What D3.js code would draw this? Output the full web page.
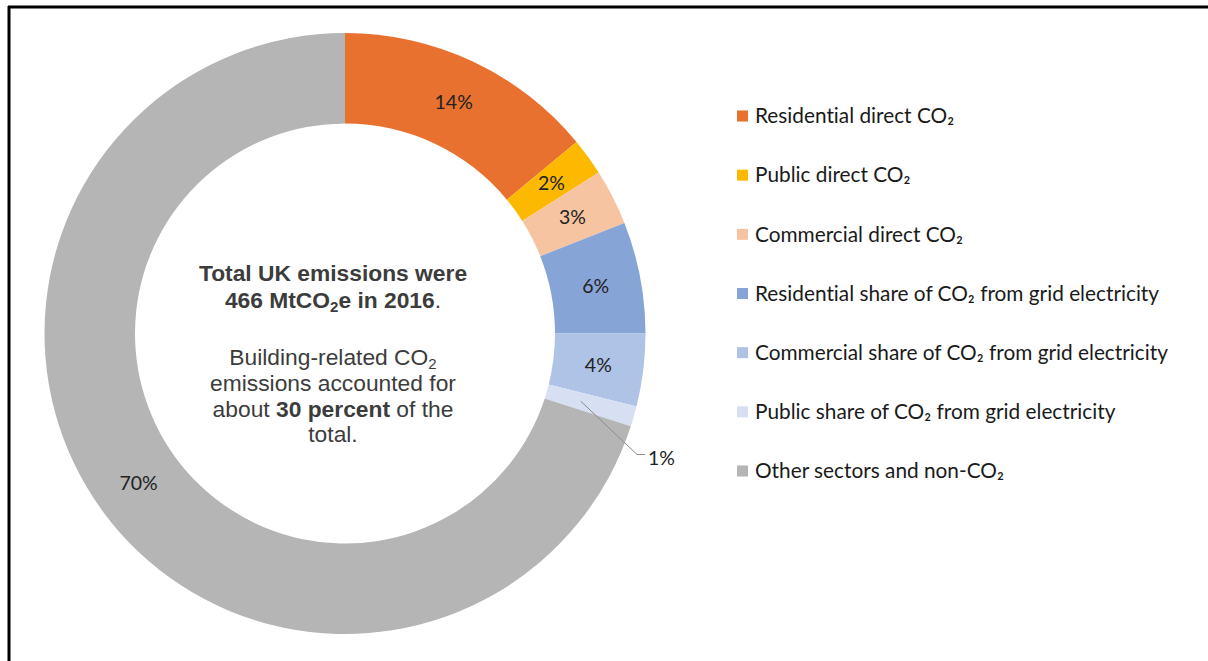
<!DOCTYPE html>
<html><head><meta charset="utf-8">
<script src="https://cdn.jsdelivr.net/npm/d3@7"></script>
<style>body{margin:0;background:#fff}svg{display:block}text{font-variant-ligatures:none;font-feature-settings:"liga" 0}</style>
</head><body>
<script>
const categories = ["Residential direct CO₂","Public direct CO₂","Commercial direct CO₂","Residential share of CO₂ from grid electricity","Commercial share of CO₂ from grid electricity","Public share of CO₂ from grid electricity","Other sectors and non-CO₂"];
const values = [14, 2, 3, 6, 3.9, 1.1, 70];
const sliceLabels = ["14%","2%","3%","6%","4%","1%","70%"];
const colors = ["#E9712F","#FDB900","#F7C4A1","#87A4D7","#AEC3E6","#D6E0F2","#B5B5B5"];

const W = 1208, H = 661;
const svg = d3.select("body").append("svg").attr("width", W).attr("height", H);

// frame (left + top)
svg.append("line").attr("x1",9).attr("y1",6).attr("x2",9).attr("y2",H).attr("stroke","#000").attr("stroke-width",3);
svg.append("line").attr("x1",8).attr("y1",7).attr("x2",W).attr("y2",7).attr("stroke","#000").attr("stroke-width",3);

const cx = 345, cy = 333.5, R = 300.5, r = 210;
const g = svg.append("g").attr("transform", `translate(${cx},${cy})`);
const pie = d3.pie().sort(null).value(d => d)(values);
const arc = d3.arc().innerRadius(r).outerRadius(R);
g.selectAll("path.s").data(pie).join("path").attr("class","s")
  .attr("d", arc).attr("fill", (d,i) => colors[i]);

const labFont = "Lato, 'Noto Sans', sans-serif";
const labSize = 19.5;
const midArc = d3.arc().innerRadius((r+R)/2).outerRadius((r+R)/2);
pie.forEach((d,i) => {
  if (i === 5) {
    const a = (d.startAngle + d.endAngle)/2;
    const p0 = [Math.sin(a)*((r+R)/2 - 10), -Math.cos(a)*((r+R)/2 - 10)];
    const p1 = [292, 121];
    const p2 = [300, 121];
    g.append("polyline").attr("points", [p0,p1,p2].map(p=>p.join(",")).join(" "))
      .attr("fill","none").attr("stroke","#8c8c8c").attr("stroke-width",1);
    g.append("text").attr("x", 303).attr("y", 131)
      .attr("font-family", labFont).attr("font-size",labSize).attr("fill","#222").text(sliceLabels[i]);
  } else {
    const c = midArc.centroid(d);
    g.append("text").attr("x", c[0]).attr("y", c[1]).attr("dy","0.35em")
      .attr("text-anchor","middle").attr("font-family", labFont).attr("font-size",labSize)
      .attr("fill","#222").text(sliceLabels[i]);
  }
});

// center text
const ct = svg.append("g").attr("font-family","'Liberation Sans', Arial, sans-serif").attr("font-size",22.8).attr("fill","#3c3c3c").attr("text-anchor","middle");
const tcx = 333;
ct.append("text").attr("x",tcx).attr("y",281).attr("font-weight","bold").text("Total UK emissions were");
const t2 = ct.append("text").attr("x",tcx).attr("y",307.5);
t2.append("tspan").attr("font-weight","bold").text("466 MtCO");
t2.append("tspan").attr("font-weight","bold").attr("font-size",15).attr("dy",4).text("2");
t2.append("tspan").attr("font-weight","bold").attr("dy",-4).text("e in 2016");
t2.append("tspan").text(".");
const t3 = ct.append("text").attr("x",tcx).attr("y",365);
t3.append("tspan").text("Building-related CO");
t3.append("tspan").attr("font-size",15).attr("dy",4).text("2");
ct.append("text").attr("x",tcx).attr("y",391).text("emissions accounted for");
const t5 = ct.append("text").attr("x",tcx).attr("y",416.5);
t5.append("tspan").text("about ");
t5.append("tspan").attr("font-weight","bold").text("30 percent");
t5.append("tspan").text(" of the");
ct.append("text").attr("x",tcx).attr("y",442).text("total.");

// legend
const ly = d3.scalePoint().domain(categories).range([116, 471]);
const lg = svg.append("g");
categories.forEach((c,i) => {
  lg.append("rect").attr("x",737).attr("y",ly(c)-5.5).attr("width",11).attr("height",11).attr("fill",colors[i]);
  lg.append("text").attr("x",755).attr("y",ly(c)).attr("dy","0.35em")
    .attr("font-family",labFont).attr("font-size",20.8).attr("fill","#1a1a1a").text(c);
});
</script>
</body></html>
